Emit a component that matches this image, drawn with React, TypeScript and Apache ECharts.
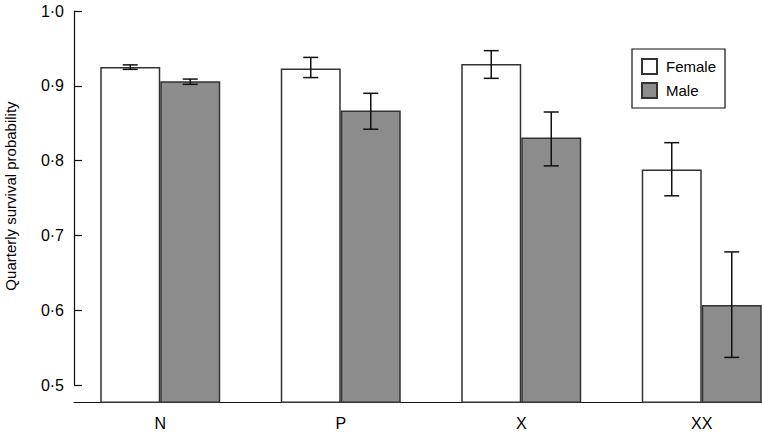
import React, { useEffect, useRef } from "react";
import * as echarts from "echarts";

const categories = ["N", "P", "X", "XX"];
const femaleValues = [0.925, 0.923, 0.929, 0.788];
const femaleLow = [0.922, 0.911, 0.910, 0.753];
const femaleHigh = [0.928, 0.938, 0.947, 0.824];
const maleValues = [0.906, 0.867, 0.831, 0.607];
const maleLow = [0.902, 0.842, 0.793, 0.537];
const maleHigh = [0.909, 0.890, 0.865, 0.678];
const yTicks = [0.5, 0.6, 0.7, 0.8, 0.9, 1.0];

const FONT = "'Liberation Sans', Arial, Helvetica, sans-serif";
const BAR_W = 60;
const CAP = 7.5;

function errorSeries(name: string, lo: number[], hi: number[], side: number) {
  return {
    type: "custom",
    name: name + "-err",
    xAxisIndex: 0,
    yAxisIndex: 0,
    z: 5,
    silent: true,
    data: categories.map((_, i) => [i, lo[i], hi[i]]),
    renderItem: (params: any, api: any) => {
      const i = api.value(0);
      const pLo = api.coord([i, api.value(1)]);
      const pHi = api.coord([i, api.value(2)]);
      const x = pLo[0] + side * (BAR_W / 2);
      const style = { stroke: "#111", lineWidth: 1.5, fill: "none" };
      return {
        type: "group",
        children: [
          { type: "line", shape: { x1: x, y1: pLo[1], x2: x, y2: pHi[1] }, style },
          { type: "line", shape: { x1: x - CAP, y1: pLo[1], x2: x + CAP, y2: pLo[1] }, style },
          { type: "line", shape: { x1: x - CAP, y1: pHi[1], x2: x + CAP, y2: pHi[1] }, style },
        ],
      };
    },
  };
}

export default function App() {
  const ref = useRef<HTMLDivElement>(null);
  useEffect(() => {
    if (!ref.current) return;
    const chart = echarts.init(ref.current, undefined, { renderer: "svg" });
    chart.setOption({
      animation: false,
      backgroundColor: "#ffffff",
      textStyle: { fontFamily: FONT },
      grid: [
        { left: 70, top: 11, width: 722, height: 391.3, outerBoundsMode: "none", containLabel: false },
        { left: 74, top: 11, width: 688, height: 374, outerBoundsMode: "none", containLabel: false },
      ],
      legend: {
        data: ["Female", "Male"],
        orient: "vertical",
        left: 632,
        top: 49,
        padding: 9,
        itemWidth: 15,
        itemHeight: 15,
        itemGap: 7,
        borderColor: "#111",
        borderWidth: 1.2,
        icon: "rect",
        textStyle: { fontSize: 15, color: "#000", fontFamily: FONT, padding: [0, 0, 0, 4] },
      },
      graphic: [
        {
          type: "text",
          x: 10,
          y: 196,
          rotation: Math.PI / 2,
          style: {
            text: "Quarterly survival probability",
            fontSize: 15,
            fontFamily: FONT,
            fill: "#000",
            align: "center",
            verticalAlign: "middle",
          },
        },
      ],
      xAxis: [
        {
          type: "category",
          gridIndex: 0,
          data: categories,
          axisLine: { show: false },
          axisTick: { show: false },
          axisLabel: { fontSize: 16, color: "#000", margin: 13, fontFamily: FONT },
        },
        {
          type: "value",
          gridIndex: 1,
          min: 0,
          max: 1,
          offset: 17,
          axisLine: { show: true, lineStyle: { color: "#111", width: 1.2 } },
          axisTick: { show: false },
          axisLabel: { show: false },
          splitLine: { show: false },
        },
      ],
      yAxis: [
        {
          type: "value",
          gridIndex: 0,
          min: 0.477,
          max: 1.0,
          show: false,
          splitLine: { show: false },
        },
        {
          type: "value",
          gridIndex: 1,
          min: yTicks[0],
          max: yTicks[yTicks.length - 1],
          interval: 0.1,
          axisLine: { show: true, lineStyle: { color: "#111", width: 1.2 } },
          axisTick: { show: true, inside: true, length: 8, lineStyle: { color: "#111", width: 1.2 } },
          axisLabel: {
            fontSize: 16,
            color: "#000",
            margin: 10,
            fontFamily: FONT,
            formatter: (v: number) => v.toFixed(1).replace(".", "·"),
          },
          splitLine: { show: false },
        },
      ],
      series: [
        {
          type: "bar",
          name: "Female",
          xAxisIndex: 0,
          yAxisIndex: 0,
          data: femaleValues,
          barWidth: BAR_W,
          barGap: "0%",
          itemStyle: { color: "#ffffff", borderColor: "#333", borderWidth: 1.5 },
        },
        {
          type: "bar",
          name: "Male",
          xAxisIndex: 0,
          yAxisIndex: 0,
          data: maleValues,
          barWidth: BAR_W,
          barGap: "0%",
          itemStyle: { color: "#8c8c8c", borderColor: "#333", borderWidth: 1.5 },
        },
        errorSeries("Female", femaleLow, femaleHigh, -1),
        errorSeries("Male", maleLow, maleHigh, 1),
      ],
    });
    return () => chart.dispose();
  }, []);
  return <div ref={ref} style={{ width: 762, height: 437, position: "absolute", left: 0, top: 0 }} />;
}
